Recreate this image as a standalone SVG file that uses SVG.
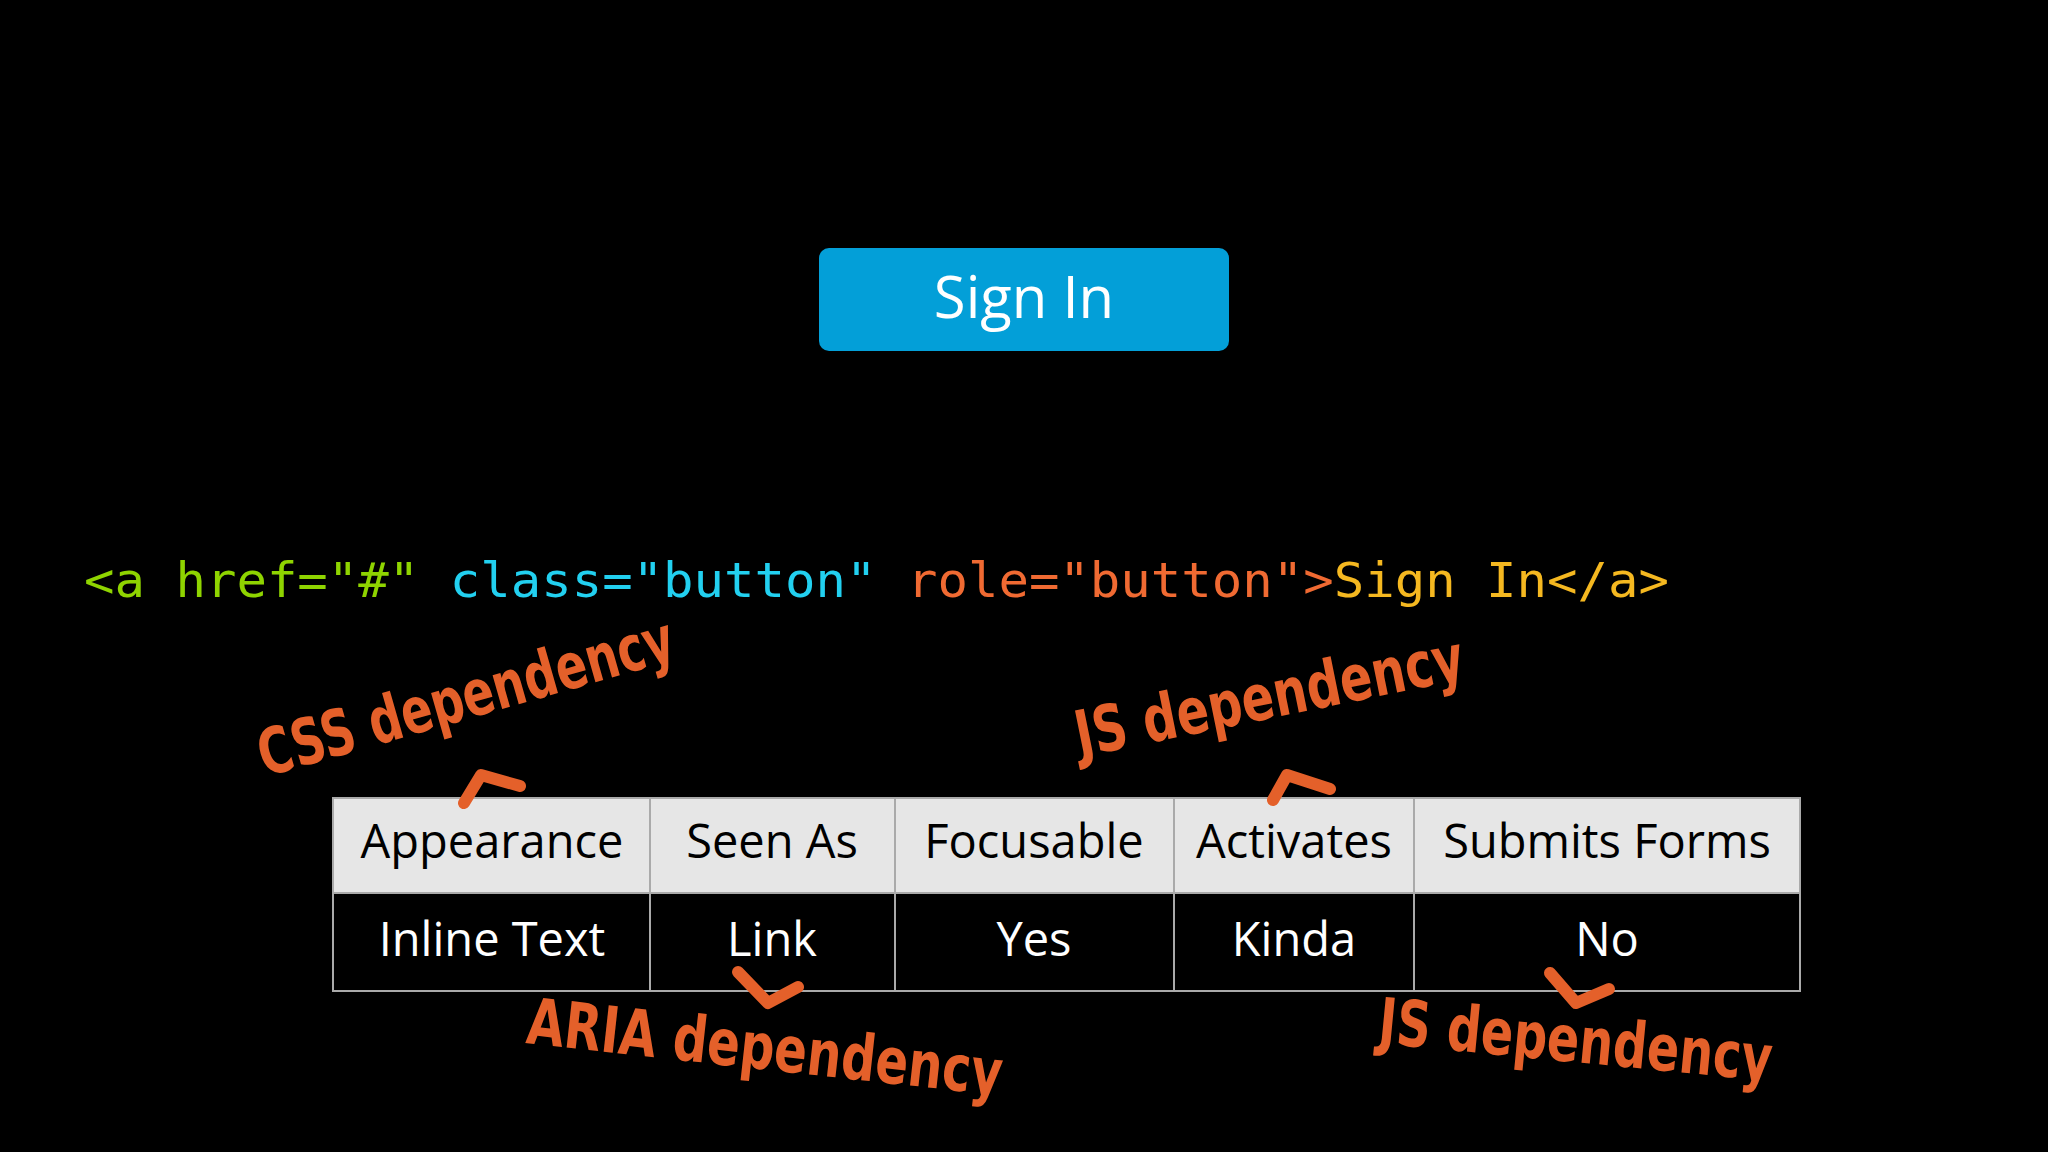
<svg xmlns="http://www.w3.org/2000/svg" width="2048" height="1152" viewBox="0 0 2048 1152">
<style>
.cell{font-family:"Open Sans","Liberation Sans",sans-serif;font-size:47px;fill:#000;text-anchor:middle}
.val{fill:#fff}
.ann{font-family:"DejaVu Sans Condensed","DejaVu Sans",sans-serif;font-weight:bold;font-size:64px;fill:#e4602a}
.mark{fill:none;stroke:#e4602a;stroke-width:12;stroke-linecap:round;stroke-linejoin:round}
.code{font-family:"DejaVu Sans Mono","Liberation Mono",monospace;font-size:48px}
</style>
<rect width="2048" height="1152" fill="#000"/>
<g id="button">
<rect x="819" y="248" width="410" height="103" rx="10" fill="#039fd8"/>
<text x="1024" y="318" font-family="Open Sans,Liberation Sans,sans-serif" font-size="58" fill="#fff" text-anchor="middle">Sign In</text>
</g>
<g id="code">
<text class="code" x="84" y="597" textLength="1585" lengthAdjust="spacingAndGlyphs"><tspan fill="#8fd400">&lt;a href="#" </tspan><tspan fill="#22d0f0">class="button" </tspan><tspan fill="#f06a32">role="button"&gt;</tspan><tspan fill="#f5b820">Sign In&lt;/a&gt;</tspan></text>
</g>
<g id="table">
<rect x="333" y="798" width="1467" height="95" fill="#e6e6e6"/>
<rect x="333" y="798" width="1467" height="193" fill="none" stroke="#aaa" stroke-width="2"/>
<line x1="333" y1="893" x2="1800" y2="893" stroke="#aaa" stroke-width="2"/>
<g stroke="#aaa" stroke-width="2">
<line x1="650" y1="798" x2="650" y2="991"/><line x1="895" y1="798" x2="895" y2="991"/>
<line x1="1174" y1="798" x2="1174" y2="991"/><line x1="1414" y1="798" x2="1414" y2="991"/>
</g>
<text class="cell" x="492" y="858">Appearance</text>
<text class="cell" x="772" y="858">Seen As</text>
<text class="cell" x="1034" y="858">Focusable</text>
<text class="cell" x="1294" y="858">Activates</text>
<text class="cell" x="1607" y="858">Submits Forms</text>
<text class="cell val" x="492" y="956">Inline Text</text>
<text class="cell val" x="772" y="956">Link</text>
<text class="cell val" x="1034" y="956">Yes</text>
<text class="cell val" x="1294" y="956">Kinda</text>
<text class="cell val" x="1607" y="956">No</text>
</g>
<g id="annotations">
<text class="ann" transform="translate(265,777) rotate(-16)" textLength="430" lengthAdjust="spacingAndGlyphs">CSS dependency</text>
<text class="ann" transform="translate(1080,757) rotate(-11.5)" textLength="395" lengthAdjust="spacingAndGlyphs">JS dependency</text>
<text class="ann" transform="translate(525,1043) rotate(6.3)" textLength="478" lengthAdjust="spacingAndGlyphs">ARIA dependency</text>
<text class="ann" transform="translate(1377,1043) rotate(5.5)" textLength="395" lengthAdjust="spacingAndGlyphs">JS dependency</text>
</g>
<g id="connectors">
<path class="mark" d="M464,803 L481,775 L520,786"/>
<path class="mark" d="M1273,800 L1287,775 L1330,789"/>
<path class="mark" d="M738,972 L768,1003 L798,987"/>
<path class="mark" d="M1550,973 L1576,1003 L1609,989"/>
</g>
</svg>
